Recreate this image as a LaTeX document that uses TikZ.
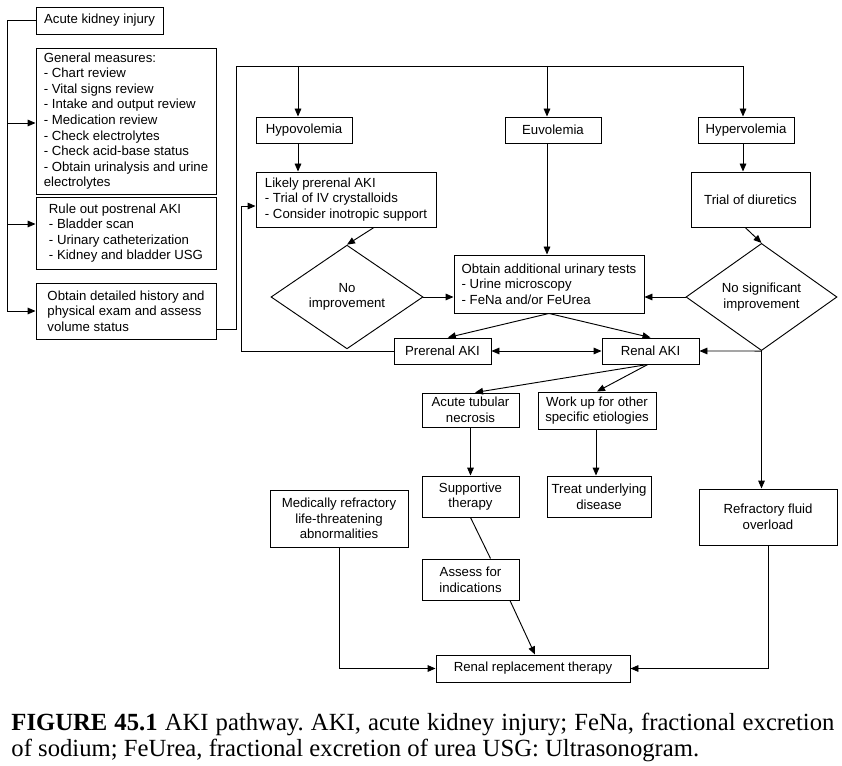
\documentclass[tikz,border=0pt]{standalone}
\usepackage{fontspec}
\setmainfont{Liberation Serif}
\setsansfont{Liberation Sans}
\usetikzlibrary{shapes.geometric,arrows.meta,calc}
\frenchspacing

\begin{document}
\begin{tikzpicture}[x=0.75pt,y=0.75pt,line width=0.7pt,
	>={Triangle[length=6pt,width=5pt]},
	box/.style={draw=black,inner xsep=2pt,inner ysep=1pt,align=center,font=\sffamily\fontsize{9.9}{11.7}\selectfont},
	lbox/.style={box,align=left},
	decision/.style={box,diamond,inner sep=0pt}]
					\useasboundingbox (0,0) rectangle (842,-766);
					\node [box,minimum width=95.25pt,minimum height=20.25pt] (aki) at (99.5,-20.5) {Acute kidney injury};
					\node [lbox,minimum width=135pt,minimum height=109.5pt] (gen) at (126,-121) {General measures:\\- Chart review\\- Vital signs review\\- Intake and output review\\- Medication review\\- Check electrolytes\\- Check acid-base status\\- Obtain urinalysis and urine\\electrolytes};
					\node [lbox,minimum width=135pt,minimum height=54pt] (rule) at (126,-233) {Rule out postrenal AKI\\- Bladder scan\\- Urinary catheterization\\- Kidney and bladder USG};
					\node [lbox,minimum width=135pt,minimum height=42pt] (hist) at (126,-311) {Obtain detailed history and\\physical exam and assess\\volume status};
					\node [box,minimum width=72pt,minimum height=19.5pt] (hypo) at (304,-130) {Hypovolemia};
					\node [box,minimum width=72pt,minimum height=19.5pt] (euvo) at (553,-130) {Euvolemia};
					\node [box,minimum width=72pt,minimum height=19.5pt] (hyper) at (746,-130) {Hypervolemia};
					\node [lbox,minimum width=135pt,minimum height=41.25pt] (likely) at (346,-199.5) {Likely prerenal AKI\\- Trial of IV crystalloids\\- Consider inotropic support};
					\node [box,minimum width=89.25pt,minimum height=41.25pt] (trial) at (750.5,-199.5) {Trial of diuretics};
					\node [decision,minimum width=114pt,minimum height=62.25pt] (noimp) at (347,-297) {No\\improvement};
					\node [decision,minimum width=113.25pt,minimum height=62.25pt] (nosig) at (761.5,-297) {No significant\\improvement};
					\node [lbox,minimum width=142.5pt,minimum height=43.5pt] (urine) at (549,-284) {Obtain additional urinary tests\\- Urine microscopy\\- FeNa and/or FeUrea};
					\node [box,minimum width=72.75pt,minimum height=19.5pt] (prerenal) at (442.5,-351) {Prerenal AKI};
					\node [box,minimum width=72.75pt,minimum height=19.5pt] (renal) at (650.5,-351) {Renal AKI};
					\node [box,minimum width=72.75pt,minimum height=25.5pt] (atn) at (470.5,-410) {Acute tubular\\necrosis};
					\node [box,minimum width=88.5pt,minimum height=27.75pt] (workup) at (597,-410.5) {Work up for other\\specific etiologies};
					\node [box,minimum width=72.75pt,minimum height=30.75pt] (support) at (470.5,-496.5) {Supportive\\therapy};
					\node [box,minimum width=78pt,minimum height=30.75pt] (treat) at (599,-496.5) {Treat underlying\\disease};
					\node [box,minimum width=103.5pt,minimum height=42.75pt] (medref) at (339,-518.5) {Medically refractory\\life-threatening\\abnormalities};
					\node [box,minimum width=72.75pt,minimum height=30.75pt] (assess) at (470.5,-579.5) {Assess for\\indications};
					\node [box,minimum width=145.5pt,minimum height=20.25pt] (rrt) at (533,-668.5) {Renal replacement therapy};
					\node [box,minimum width=103.5pt,minimum height=42pt] (fluid) at (768,-517) {Refractory fluid\\overload};
					\coordinate (bus) at (8,0);
					\coordinate (corner) at (236,-66);
					\draw [->] (aki.west) -- ++(-28,0) |- (hist.west);
					\draw [->] ([yshift=-1.5pt]gen.west -| bus) -- ([yshift=-1.5pt]gen.west);
					\draw [->] ([yshift=6.75pt]rule.west -| bus) -- ([yshift=6.75pt]rule.west);
					\draw [->] ($(hist.east)+(0,-18)$) -| (corner) -| ([xshift=-2.25pt]hyper.north);
					\draw [->] ([xshift=-4.5pt]hypo.north |- corner) -- ([xshift=-4.5pt]hypo.north);
					\draw [->] ([xshift=-4.5pt]euvo.north |- corner) -- ([xshift=-4.5pt]euvo.north);
					\draw [->] ([xshift=-4.5pt]hypo.south) -- ([xshift=-4.5pt]hypo.south |- likely.north);
					\draw [->] ([xshift=-4.5pt]euvo.south) -- ([xshift=-4.5pt]euvo.south |- urine.north);
					\draw [->] ([xshift=-2.25pt]hyper.south) -- ([xshift=-2.25pt]hyper.south |- trial.north);
					\draw [->] ([xshift=21pt]likely.south) -- (noimp.north);
					\draw [->] ([xshift=-4pt]trial.south) -- (nosig.north);
					\draw [->] (noimp.east) -- (noimp.east -| urine.west);
					\draw [->] (nosig.west) -- (nosig.west -| urine.east);
					\draw [->] (nosig.south) -- (renal.east);
					\draw [->] (nosig.south) -- (nosig.south |- fluid.north);
					\draw [->] (urine.south) -- ([xshift=4pt]prerenal.north);
					\draw [->] (urine.south) -- (renal.north);
					\draw [<->] (prerenal.east) -- (renal.west);
					\draw [->] (prerenal.west) -- ++(-152,0) |- ([yshift=-4.9pt]likely.west);
					\draw [->] ([xshift=-2pt]renal.south) -- ([xshift=3.4pt]atn.north);
					\draw [->] ([xshift=-2pt]renal.south) -- (workup.north);
					\draw [->] (atn.south) -- (support.north);
					\draw [->] ([xshift=-0.75pt]workup.south) -- ([xshift=-0.75pt]workup.south |- treat.north);
					\draw (support.south) -- ([xshift=15pt]assess.north);
					\draw [->] ([xshift=29.6pt]assess.south) -- ([xshift=1.5pt]rrt.north);
					\draw [->] (medref.south) |- (rrt.west);
					\draw [->] (fluid.south) |- (rrt.east);
					\node [anchor=base west,inner sep=0pt,font=\rmfamily\fontsize{18.5}{22}\selectfont] (cap1) at (11,-730.7) {\makebox[617.25pt][s]{\textbf{FIGURE 45.1} AKI pathway. AKI, acute kidney injury; FeNa, fractional excretion}};
					\node [anchor=base west,inner sep=0pt,font=\rmfamily\fontsize{18.5}{22}\selectfont] (cap2) at (11,-756.7) {of sodium; FeUrea, fractional excretion of urea USG: Ultrasonogram.};
\end{tikzpicture}
\end{document}
